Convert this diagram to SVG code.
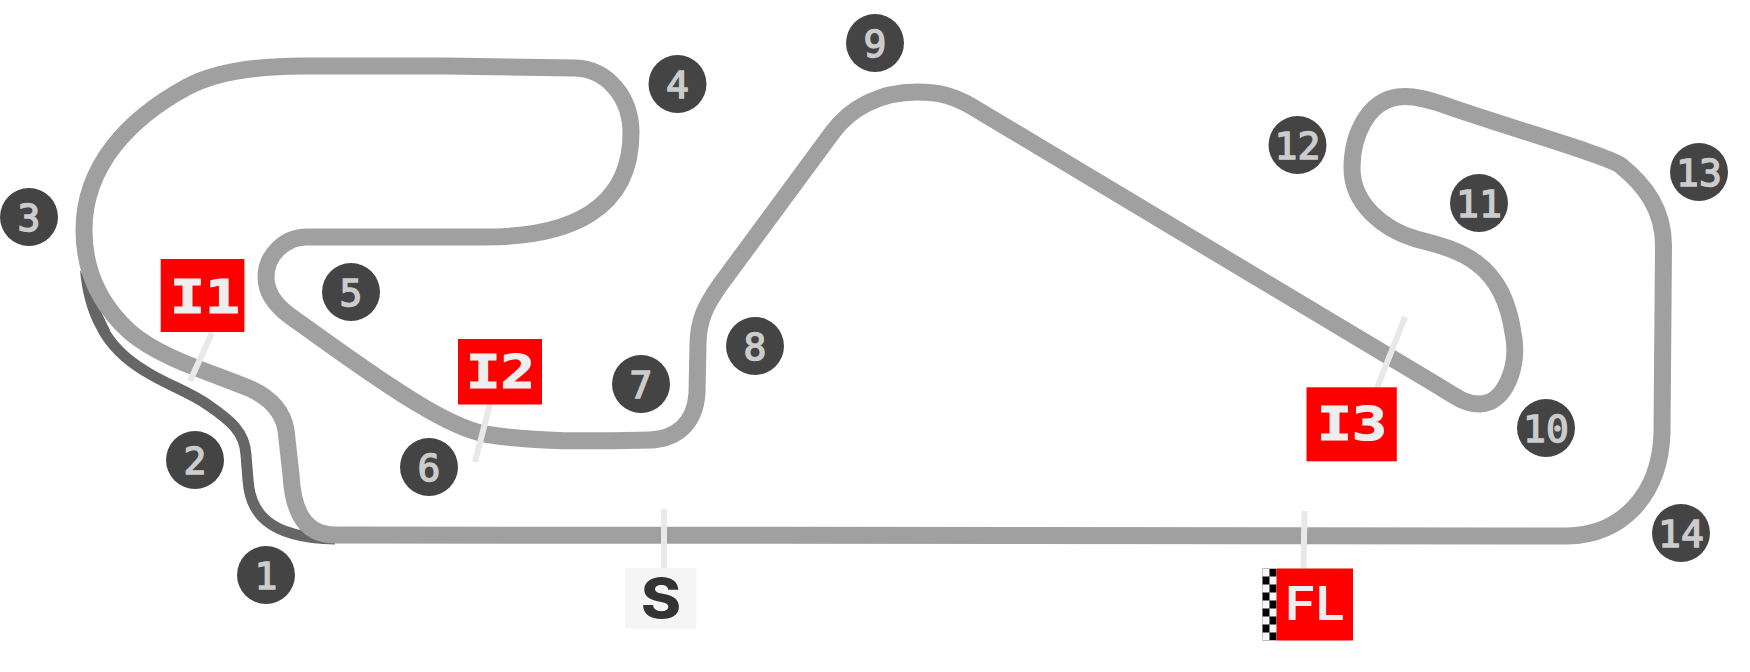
<svg xmlns="http://www.w3.org/2000/svg" width="1750" height="672" viewBox="0 0 1750 672">
<style>
.track{fill:none;stroke:#a0a0a0;stroke-width:17;stroke-linejoin:round}
.pit{fill:none;stroke:#666;stroke-width:11}
.lead{stroke:#e8e8e8;stroke-width:6;fill:none}
.c{fill:#444}
.n{font-family:"DejaVu Sans Mono",monospace;font-weight:400;font-size:38px;fill:#ccc;stroke:#ccc;stroke-width:1.4;text-anchor:middle}
.b{fill:#f00}
.l{font-family:"DejaVu Sans Mono",monospace;font-weight:700;font-size:46px;fill:#eee;stroke:#eee;stroke-width:1.2}
.s{font-family:"Inter","Liberation Sans",sans-serif;font-weight:600;fill:#eee}
</style>
<defs>
<pattern id="chk" x="1262.3" y="568.5" width="14.4" height="16" patternUnits="userSpaceOnUse">
<rect width="14.4" height="16" fill="#f8f8f8"/>
<rect x="7.2" width="7.2" height="8" fill="#000"/>
<rect y="8" width="7.2" height="8" fill="#000"/>
</pattern>
</defs>
<g id="connectors">
<path class="pit" d="M102 328C112 347 130 362 145 371C165 384 190 392 208 405C230 420 245 432 246 455L248 480C250 510 265 538 335 539"/>
<path fill="#666" d="M80 270C82 292 87 312 97 330L110 330C105 320 100 310 95 296Z"/>
<path class="track" d="M335 535L1567 536C1622 535 1660 495 1662 433L1663.500 247C1664 210 1645 185 1620 165C1605 155 1520 131 1450 107C1428 99 1412 95 1398 97C1368 101 1352 135 1352 168C1352 205 1385 230 1416 239C1460 250 1503 262 1513 333C1520 365 1505 404 1480 404C1465 404 1458 398 1440 387L971 106C950 94 935 92 917 92C880 92 850 108 832 133L720 285C706 305 698 320 698 345L697 393C695 425 675 439 650 440C600 441 540 443 485 434C450 427 400 395 318 336L290 316C275 305 266 292 266 277C266 255 285 237 307 237L485 237C570 237 631 210 631 133C631 98 608 69 575 68L446 66L304 66C255 66 215 72 187 87C130 118 84 165 84 230C84 270 100 305 130 332C160 358 210 372 251 389C270 398 283 412 286 430L291 475C293 512 305 535 335 535Z"/>
<path class="lead" d="M212 333L190 381M490 404L475 462M1405 317L1377 388M664 509V568M1304.500 511L1303.500 569"/>
</g>
<g id="turn-1"><circle class="c" cx="266" cy="575" r="29"/><text class="n" x="266" y="589">1</text></g>
<g id="turn-2"><circle class="c" cx="195" cy="460" r="29"/><text class="n" x="195" y="474">2</text></g>
<g id="turn-3"><circle class="c" cx="29" cy="217" r="29"/><text class="n" x="29" y="231">3</text></g>
<g id="turn-4"><circle class="c" cx="677.500" cy="84" r="29"/><text class="n" x="677.500" y="98">4</text></g>
<g id="turn-5"><circle class="c" cx="351" cy="292" r="29"/><text class="n" x="351" y="306">5</text></g>
<g id="turn-6"><circle class="c" cx="429" cy="467" r="29"/><text class="n" x="429" y="481">6</text></g>
<g id="turn-7"><circle class="c" cx="641" cy="384" r="29"/><text class="n" x="641" y="398">7</text></g>
<g id="turn-8"><circle class="c" cx="755" cy="346" r="29"/><text class="n" x="755" y="360">8</text></g>
<g id="turn-9"><circle class="c" cx="875" cy="43" r="29"/><text class="n" x="875" y="57">9</text></g>
<g id="turn-10"><circle class="c" cx="1546" cy="428" r="29"/><text class="n" x="1546" y="442">10</text></g>
<g id="turn-11"><circle class="c" cx="1479" cy="203" r="29"/><text class="n" x="1479" y="217">11</text></g>
<g id="turn-12"><circle class="c" cx="1297.500" cy="145" r="29"/><text class="n" x="1297.500" y="159">12</text></g>
<g id="turn-13"><circle class="c" cx="1699" cy="172" r="29"/><text class="n" x="1699" y="186">13</text></g>
<g id="turn-14"><circle class="c" cx="1681" cy="533" r="29"/><text class="n" x="1681" y="547">14</text></g>
<g id="I1"><rect class="b" x="160.700" y="259" width="83.700" height="73"/><text class="l" x="170" y="313" textLength="70" lengthAdjust="spacingAndGlyphs">I1</text></g>
<g id="I2"><rect class="b" x="458" y="339" width="84" height="65.500"/><text class="l" x="466" y="388" textLength="69" lengthAdjust="spacingAndGlyphs">I2</text></g>
<g id="I3"><rect class="b" x="1306.500" y="387.300" width="90.300" height="74"/><text class="l" x="1317" y="440" textLength="70" lengthAdjust="spacingAndGlyphs">I3</text></g>
<g id="S"><rect x="625" y="568" width="71.400" height="60.700" fill="#f5f5f5"/><text class="s" x="641" y="618" font-size="55" textLength="40" lengthAdjust="spacingAndGlyphs" style="fill:#333;font-weight:800">S</text></g>
<g id="FL"><rect x="1262.300" y="568.500" width="14.400" height="72" fill="url(#chk)"/><rect class="b" x="1276.700" y="568.500" width="76.300" height="72"/><text class="s" x="1285" y="620" font-size="46" textLength="60" lengthAdjust="spacingAndGlyphs">FL</text></g>
</svg>
